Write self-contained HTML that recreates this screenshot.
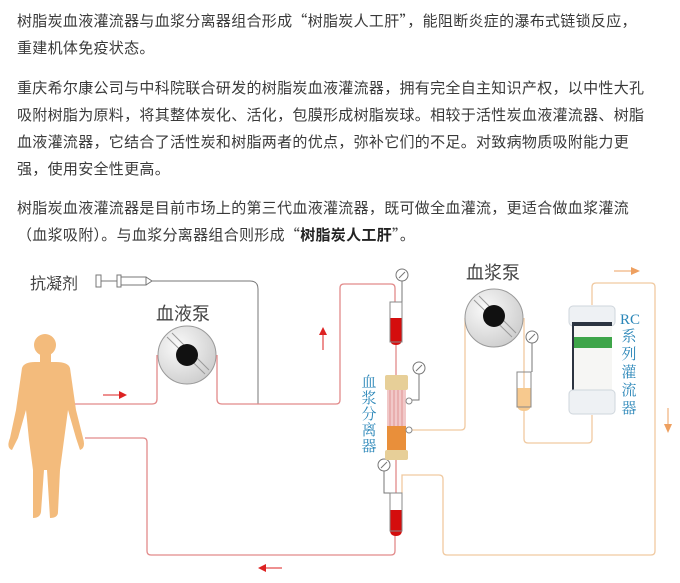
<!DOCTYPE html>
<html><head><meta charset="utf-8"><style>
html,body{margin:0;padding:0;background:#fff;}
body{width:680px;height:583px;position:relative;overflow:hidden;font-family:"Liberation Sans","Noto Sans CJK SC",sans-serif;}
.l{position:absolute;left:17px;font-family:"Noto Sans CJK SC","Liberation Sans",sans-serif;font-size:15px;line-height:20px;color:#3a3a3a;letter-spacing:0.3px;white-space:nowrap;}
svg{position:absolute;left:0;top:0;}
</style></head><body>
<div class="l" style="top:11px">树脂炭血液灌流器与血浆分离器组合形成“树脂炭人工肝”，能阻断炎症的瀑布式链锁反应，</div>
<div class="l" style="top:38px">重建机体免疫状态。</div>
<div class="l" style="top:78px">重庆希尔康公司与中科院联合研发的树脂炭血液灌流器，拥有完全自主知识产权，以中性大孔</div>
<div class="l" style="top:105px">吸附树脂为原料，将其整体炭化、活化，包膜形成树脂炭球。相较于活性炭血液灌流器、树脂</div>
<div class="l" style="top:132px">血液灌流器，它结合了活性炭和树脂两者的优点，弥补它们的不足。对致病物质吸附能力更</div>
<div class="l" style="top:159px">强，使用安全性更高。</div>
<div class="l" style="top:198px">树脂炭血液灌流器是目前市场上的第三代血液灌流器，既可做全血灌流，更适合做血浆灌流</div>
<div class="l" style="top:225px">（血浆吸附）。与血浆分离器组合则形成“<b style="color:#222">树脂炭人工肝</b>”。</div>

<svg width="680" height="583" viewBox="0 0 680 583">
<defs>
<radialGradient id="pg" cx="0.35" cy="0.35" r="0.8"><stop offset="0" stop-color="#fafafa"/><stop offset="1" stop-color="#c8c8c8"/></radialGradient>
</defs>
<g fill="#f3bb7c">
<circle cx="45" cy="345" r="11"/>
<rect x="40" y="354" width="11" height="10"/>
<path d="M22 368 Q24 362 35 362 L56 362 Q68 362 70 368 L76 410 L83 438 Q86 448 80 450 L76 438 L68 410 L64 440 L60 470 L58 512 Q58 518 50 518 L47 470 L44 470 L41 512 Q40 518 33 518 L33 470 L29 440 L26 410 L18 438 L12 450 Q6 448 10 438 L16 410 Z"/>
</g>
<text x="30" y="289" font-size="16" fill="#444" font-family="Liberation Sans,Noto Sans CJK SC,sans-serif">抗凝剂</text>
<g fill="none" stroke="#777" stroke-width="1">
<rect x="96" y="275" width="5" height="12"/>
<line x1="101" y1="281" x2="117" y2="281"/>
<rect x="117" y="275" width="4" height="12"/>
<rect x="121" y="277" width="25" height="8"/>
<path d="M146 277 L152 281 L146 285"/>
<path d="M152 281 L250 281 Q258 281 258 289 L258 404"/>
</g>
<text x="156" y="320" font-size="18" fill="#444" font-family="Liberation Sans,Noto Sans CJK SC,sans-serif">血液泵</text>
<circle cx="187" cy="355" r="29" fill="url(#pg)" stroke="#999" stroke-width="1"/>
<path d="M167 337 L205 374 M172 333 L209 370" stroke="#999" stroke-width="1" fill="none"/>
<circle cx="187" cy="355" r="11" fill="#111"/>
<g fill="none" stroke="#e28a8a" stroke-width="1.3">
<path d="M75 404 L152 404 Q157 404 157 399 L157 355"/>
<path d="M217 355 L217 399 Q217 404 222 404 L336 404 Q340 404 340 400 L340 288 Q340 284 344 284 L391 284 Q395 284 395 288 L395 302"/>
<path d="M85 438 L143 438 Q147 438 147 442 L147 551 Q147 555 151 555 L391 555 Q395 555 395 551 L395 535"/>
<line x1="396" y1="345" x2="396" y2="375"/>
<line x1="396" y1="460" x2="396" y2="493"/>
</g>
<g stroke="#d22" fill="#d22">
<line x1="103" y1="395" x2="120" y2="395"/><path d="M127 395 L119 391 L119 399Z" stroke="none"/>
<line x1="323" y1="350" x2="323" y2="334"/><path d="M323 327 L319 335 L327 335Z" stroke="none"/>
<line x1="282" y1="568" x2="265" y2="568"/><path d="M258 568 L266 564 L266 572Z" stroke="none"/>
</g>
<g fill="none" stroke="#f0c9a0" stroke-width="1.3">
<path d="M408 430 L461 430 Q465 430 465 426 L465 318"/>
<path d="M524 318 L524 439 Q524 443 528 443 L588 443 Q592 443 592 439 L592 415"/>
<path d="M592 305 L592 287 Q592 283 596 283 L651 283 Q655 283 655 287 L655 551 Q655 555 651 555 L447 555 Q443 555 443 551 L443 479 Q443 475 439 475 L402 475 L402 493"/>
</g>
<g fill="#eea060" stroke="#eea060">
<line x1="614" y1="271" x2="632" y2="271"/><path d="M640 271 L631 267 L631 275Z" stroke="none"/>
<line x1="668" y1="408" x2="668" y2="425"/><path d="M668 433 L664 424 L672 424Z" stroke="none"/>
</g>
<g fill="none" stroke="#777" stroke-width="1">
<circle cx="402" cy="275" r="6" fill="#fff"/><line x1="399" y1="278" x2="405" y2="272"/><line x1="402" y1="281" x2="402" y2="302"/>
<circle cx="419" cy="368" r="6" fill="#fff"/><line x1="416" y1="371" x2="422" y2="365"/><path d="M419 374 L419 400 L408 400"/>
<circle cx="384" cy="465" r="6" fill="#fff"/><line x1="381" y1="468" x2="387" y2="462"/><path d="M384 471 L384 493 L390 493"/>
<circle cx="532" cy="337" r="6" fill="#fff"/><line x1="529" y1="340" x2="535" y2="334"/><path d="M532 343 L532 372"/>
</g>
<path d="M390 318 L402 318 L402 339 Q402 345 396 345 Q390 345 390 339Z" fill="#d40d0d"/>
<rect x="390" y="302" width="12" height="40" fill="none" stroke="#888"/>
<path d="M390 510 L402 510 L402 530 Q402 536 396 536 Q390 536 390 530Z" fill="#d40d0d"/>
<rect x="390" y="493" width="12" height="38" fill="none" stroke="#888"/>
<path d="M517 388 L531 388 L531 404 Q531 411 524 411 Q517 411 517 404Z" fill="#f7c98e"/>
<rect x="517" y="372" width="14" height="35" fill="none" stroke="#888"/>
<rect x="385" y="375" width="23" height="15" rx="2" fill="#e7cf98"/>
<rect x="387" y="390" width="19" height="36" fill="#f1c8c8"/>
<g stroke="#d88" stroke-width="0.8"><line x1="390" y1="390" x2="390" y2="426"/><line x1="394" y1="390" x2="394" y2="426"/><line x1="398" y1="390" x2="398" y2="426"/><line x1="402" y1="390" x2="402" y2="426"/></g>
<rect x="387" y="426" width="19" height="24" fill="#e98f3a"/>
<rect x="385" y="450" width="23" height="10" rx="2" fill="#e7cf98"/>
<circle cx="409" cy="401" r="3" fill="#fff" stroke="#888"/><circle cx="409" cy="430" r="3" fill="#fff" stroke="#888"/>
<g font-size="15" fill="#2a86b8" font-family="Liberation Serif,Noto Serif CJK SC,serif" text-anchor="middle">
<text x="369" y="387">血</text><text x="369" y="403">浆</text><text x="369" y="419">分</text><text x="369" y="435">离</text><text x="369" y="451">器</text>
<text x="630" y="324">RC</text><text x="629" y="341">系</text><text x="629" y="359">列</text><text x="629" y="377">灌</text><text x="629" y="395">流</text><text x="629" y="413">器</text>
</g>
<text x="466" y="279" font-size="18" fill="#444" font-family="Liberation Sans,Noto Sans CJK SC,sans-serif">血浆泵</text>
<circle cx="494" cy="318" r="29" fill="url(#pg)" stroke="#999"/>
<path d="M474 300 L512 337 M479 296 L516 333" stroke="#999" fill="none"/>
<circle cx="494" cy="316" r="11" fill="#111"/>
<rect x="569" y="306" width="46" height="20" rx="4" fill="#eef1f4" stroke="#cfd6dc"/>
<rect x="572" y="322" width="40" height="70" fill="#2c3440"/>
<rect x="574" y="326" width="38" height="64" fill="#f6f6f4"/>
<rect x="574" y="337" width="38" height="11" fill="#3ea549"/>
<rect x="569" y="390" width="46" height="24" rx="4" fill="#eef1f4" stroke="#cfd6dc"/>
</svg>
</body></html>
